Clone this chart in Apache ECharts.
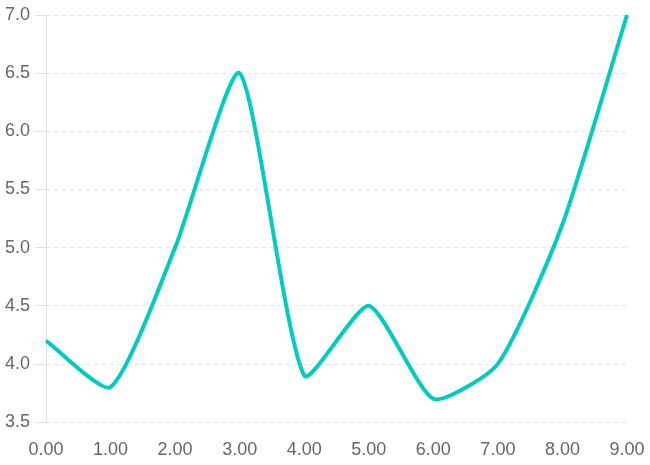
<!DOCTYPE html>
<html><head><meta charset="utf-8">
<script src="https://cdn.jsdelivr.net/npm/echarts@6/dist/echarts.min.js"></script>
<style>html,body{margin:0;padding:0;background:#fff}#c{width:650px;height:465px}</style>
</head><body><div id="c"></div>
<script>
const xValues = [0, 1, 2, 3, 4, 5, 6, 7, 8, 9];
const yValues = [4.2, 3.8, 5.0, 6.5, 3.9, 4.5, 3.7, 4.0, 5.2, 7.0];
const lineColor = '#00CDBF';
const tension = 0.2;

// Cardinal-style spline (tension-based) through pixel points, control points capped to area
function splinePath(pts, area) {
  const n = pts.length;
  const cps = [];
  const clampX = v => Math.max(area.x, Math.min(area.x + area.width, v));
  const clampY = v => Math.max(area.y, Math.min(area.y + area.height, v));
  for (let i = 0; i < n; i++) {
    const cur = pts[i];
    const prev = pts[i - 1] || cur;
    const next = pts[i + 1] || cur;
    const d01 = Math.hypot(cur[0] - prev[0], cur[1] - prev[1]);
    const d12 = Math.hypot(next[0] - cur[0], next[1] - cur[1]);
    let s01 = d01 / (d01 + d12), s12 = d12 / (d01 + d12);
    if (isNaN(s01)) s01 = 0;
    if (isNaN(s12)) s12 = 0;
    const fa = tension * s01, fb = tension * s12;
    cps.push({
      p: [clampX(cur[0] - fa * (next[0] - prev[0])), clampY(cur[1] - fa * (next[1] - prev[1]))],
      n: [clampX(cur[0] + fb * (next[0] - prev[0])), clampY(cur[1] + fb * (next[1] - prev[1]))]
    });
  }
  let d = 'M' + pts[0][0] + ' ' + pts[0][1];
  for (let i = 0; i < n - 1; i++) {
    d += ' C' + cps[i].n[0] + ' ' + cps[i].n[1] + ' ' + cps[i + 1].p[0] + ' ' + cps[i + 1].p[1] +
      ' ' + pts[i + 1][0] + ' ' + pts[i + 1][1];
  }
  return d;
}

const labelFont = {color: '#666', fontSize: 18, fontFamily: 'Liberation Sans, Arial'};
const chart = echarts.init(document.getElementById('c'));
chart.setOption({
  animation: false,
  grid: {left: 46, right: 23, top: 15, bottom: 43},
  xAxis: {
    type: 'value', min: 0, max: 9, interval: 1,
    axisLine: {show: false}, axisTick: {show: false}, splitLine: {show: false},
    axisLabel: Object.assign({formatter: v => v.toFixed(2), margin: 19}, labelFont)
  },
  yAxis: {
    type: 'value', min: 3.5, max: 7, interval: 0.5,
    axisLine: {show: true, lineStyle: {color: '#e0e0e0', width: 1}},
    axisTick: {show: true, length: 11, lineStyle: {color: '#e0e0e0'}},
    splitLine: {show: true, lineStyle: {color: '#e6e6e6', type: [4, 4], width: 1}},
    axisLabel: Object.assign({formatter: v => v.toFixed(1), margin: 16}, labelFont)
  },
  series: [{
    type: 'custom',
    data: xValues.map((x, i) => [x, yValues[i]]),
    encode: {x: 0, y: 1},
    renderItem: function (params, api) {
      if (params.dataIndex !== 0) return null;
      const pts = xValues.map((x, i) => api.coord([x, yValues[i]]));
      return {
        type: 'path',
        shape: {pathData: splinePath(pts, params.coordSys)},
        style: {fill: null, stroke: lineColor, lineWidth: 4}
      };
    }
  }]
});
</script></body></html>
